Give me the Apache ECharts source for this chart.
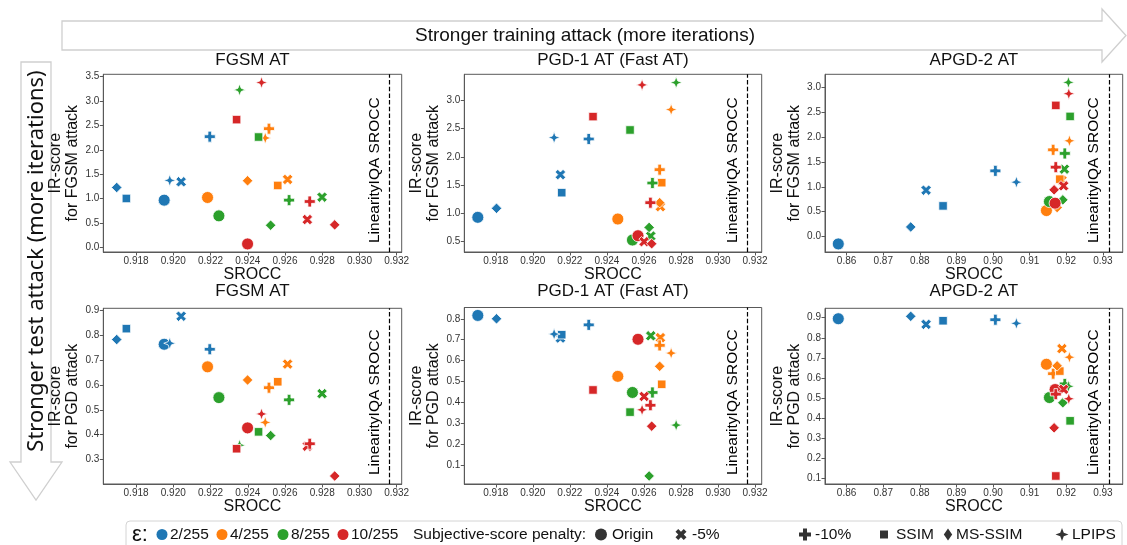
<!DOCTYPE html>
<html><head><meta charset="utf-8">
<script src="https://cdn.jsdelivr.net/npm/echarts@6/dist/echarts.min.js"></script>
<style>html,body{margin:0;padding:0;background:#fff}#c{width:1127px;height:545px}</style>
</head><body><div id="c"></div>
<script>
// ---------------- DATA ----------------
const epsLabels = ['2/255', '4/255', '8/255', '10/255'];
const penalties = ['Origin', '-5%', '-10%', 'SSIM', 'MS-SSIM', 'LPIPS'];
const trainingTitles = ['FGSM AT', 'PGD-1 AT (Fast AT)', 'APGD-2 AT'];
const yNames = ['IR-score\nfor FGSM attack', 'IR-score\nfor PGD attack'];
const xName = 'SROCC';
const linearityIQA_SROCC = 0.9316;
const refLabel = 'LinearityIQA SROCC';

// rows: eps (2,4,8,10/255); columns: penalties (Origin,-5%,-10%,SSIM,MS-SSIM,LPIPS)
const fgsmAT_srocc = [
  [0.91951, 0.92042, 0.92196, 0.91748, 0.91696, 0.91981],
  [0.92184, 0.92614, 0.92514, 0.92561, 0.92399, 0.92494],
  [0.92245, 0.92799, 0.92622, 0.92458, 0.92523, 0.92356],
  [0.92399, 0.92720, 0.92733, 0.92340, 0.92867, 0.92474]];
const fgsmAT_irFGSM = [
  [0.970, 1.347, 2.270, 1.005, 1.230, 1.374],
  [1.025, 1.394, 2.433, 1.271, 1.367, 2.242],
  [0.649, 1.032, 0.971, 2.262, 0.458, 3.226],
  [0.075, 0.574, 0.943, 2.618, 0.465, 3.377]];
const fgsmAT_irPGD = [
  [0.764, 0.877, 0.744, 0.827, 0.783, 0.768],
  [0.673, 0.684, 0.589, 0.613, 0.620, 0.449],
  [0.549, 0.565, 0.540, 0.411, 0.396, 0.357],
  [0.427, 0.353, 0.363, 0.343, 0.233, 0.483]];

const pgd1AT_srocc = [
  [0.91703, 0.92149, 0.92302, 0.92156, 0.91804, 0.92115],
  [0.92459, 0.92689, 0.92685, 0.92696, 0.92685, 0.92747],
  [0.92538, 0.92637, 0.92646, 0.92525, 0.92628, 0.92774],
  [0.92568, 0.92601, 0.92635, 0.92325, 0.92642, 0.92590]];
const pgd1AT_irFGSM = [
  [0.922, 1.682, 2.317, 1.361, 1.082, 2.341],
  [0.892, 1.112, 1.771, 1.539, 1.183, 2.840],
  [0.518, 0.589, 1.533, 2.477, 0.743, 3.321],
  [0.595, 0.488, 1.183, 2.715, 0.452, 3.279]];
const pgd1AT_irPGD = [
  [0.816, 0.708, 0.771, 0.724, 0.800, 0.727],
  [0.525, 0.710, 0.673, 0.487, 0.573, 0.636],
  [0.448, 0.719, 0.448, 0.354, 0.049, 0.292],
  [0.702, 0.429, 0.387, 0.460, 0.287, 0.365]];

const apgd2AT_srocc = [
  [0.85773, 0.88170, 0.90063, 0.88634, 0.87751, 0.90637],
  [0.91457, 0.91880, 0.91640, 0.91822, 0.91749, 0.92085],
  [0.91539, 0.91948, 0.91959, 0.92104, 0.91905, 0.92058],
  [0.91694, 0.91926, 0.91713, 0.91713, 0.91667, 0.92068]];
const apgd2AT_irFGSM = [
  [-0.147, 0.931, 1.319, 0.616, 0.194, 1.092],
  [0.522, 1.130, 1.741, 1.152, 0.583, 1.922],
  [0.703, 1.353, 1.668, 2.411, 0.737, 3.094],
  [0.670, 1.018, 1.393, 2.632, 0.938, 2.867]];
const apgd2AT_irPGD = [
  [0.895, 0.867, 0.890, 0.885, 0.907, 0.872],
  [0.668, 0.746, 0.621, 0.634, 0.660, 0.703],
  [0.502, 0.555, 0.570, 0.386, 0.476, 0.558],
  [0.542, 0.543, 0.519, 0.111, 0.351, 0.496]];

// tick labels
const xTicksNarrow = [0.918, 0.920, 0.922, 0.924, 0.926, 0.928, 0.930, 0.932];
const xTicksWide = [0.86, 0.87, 0.88, 0.89, 0.90, 0.91, 0.92, 0.93];
const yTicksTop = [
  [0.0, 0.5, 1.0, 1.5, 2.0, 2.5, 3.0, 3.5],
  [0.5, 1.0, 1.5, 2.0, 2.5, 3.0],
  [0.0, 0.5, 1.0, 1.5, 2.0, 2.5, 3.0]];
const yTicksBottom = [
  [0.3, 0.4, 0.5, 0.6, 0.7, 0.8, 0.9],
  [0.1, 0.2, 0.3, 0.4, 0.5, 0.6, 0.7, 0.8],
  [0.1, 0.2, 0.3, 0.4, 0.5, 0.6, 0.7, 0.8, 0.9]];

const topArrowText = 'Stronger training attack (more iterations)';
const leftArrowText = 'Stronger test attack (more iterations)';
const legendEpsTitle = 'ε:';
const legendPenTitle = 'Subjective-score penalty:';

// ---------------- STYLE / LAYOUT ----------------
const FONT = '"Liberation Sans", Arial, sans-serif';
const epsColors = ['#1f77b4', '#ff7f0e', '#2ca02c', '#d62728'];

function polyPath(pts) {
  return pts.map((p, i) => (i ? 'L' : 'M') + p[0].toFixed(4) + ',' + p[1].toFixed(4)).join('') + 'Z';
}
const plusPts = [[1,0],[2,0],[2,1],[3,1],[3,2],[2,2],[2,3],[1,3],[1,2],[0,2],[0,1],[1,1]].map(p => [p[0]-1.5, p[1]-1.5]);
const xPts = plusPts.map(p => { const c = Math.SQRT1_2; return [p[0]*c - p[1]*c, p[0]*c + p[1]*c]; });
const starPts = [[0,-1],[0.27,-0.27],[1,0],[0.27,0.27],[0,1],[-0.27,0.27],[-1,0],[-0.27,-0.27]];
const markerSymbols = ['circle', 'path://' + polyPath(xPts), 'path://' + polyPath(plusPts), 'rect', 'diamond', 'path://' + polyPath(starPts)];
const markerSizes = [12, 10.5, 11, 8.5, 10.5, 12];

const gridBoxes = [
  [103.3, 74.3, 298.4, 177.7],
  [464.3, 74.3, 297.4, 177.7],
  [825.0, 74.3, 297.7, 177.7],
  [103.3, 308.3, 298.4, 175.7],
  [464.3, 307.5, 297.4, 176.5],
  [825.0, 308.3, 297.7, 175.7]];
const xLims = [[0.91624, 0.93227], [0.91630, 0.93236], [0.8541, 0.9354]];
const yLimsTop = [[-0.09, 3.545], [0.305, 3.468], [-0.309, 3.256]];
const yLimsBottom = [[0.2008, 0.909], [0.0106, 0.854], [0.071, 0.947]];

const sroccs = [fgsmAT_srocc, pgd1AT_srocc, apgd2AT_srocc];
const irF = [fgsmAT_irFGSM, pgd1AT_irFGSM, apgd2AT_irFGSM];
const irP = [fgsmAT_irPGD, pgd1AT_irPGD, apgd2AT_irPGD];

const grids = [], xAxes = [], yAxes = [], series = [], graphics = [];
for (let g = 0; g < 6; g++) {
  const t = g % 3, row = g < 3 ? 0 : 1;
  const b = gridBoxes[g];
  grids.push({left: b[0], top: b[1], width: b[2], height: b[3], show: true,
    borderColor: '#595959', borderWidth: 1, backgroundColor: 'transparent'});
  const xt = t === 2 ? xTicksWide : xTicksNarrow;
  const dec = t === 2 ? 2 : 3;
  xAxes.push({type: 'value', gridIndex: g, min: xLims[t][0], max: xLims[t][1],
    name: xName, nameLocation: 'middle', nameGap: 13,
    nameTextStyle: {fontFamily: FONT, fontSize: 16, color: '#111', verticalAlign: 'top'},
    axisLine: {show: true, onZero: false, lineStyle: {color: '#595959', width: 1}},
    axisTick: {show: true, customValues: xt, length: 3.5, lineStyle: {color: '#595959'}},
    axisLabel: {customValues: xt, formatter: v => v.toFixed(dec), fontFamily: FONT, fontSize: 10, color: '#333', margin: 4},
    splitLine: {show: false}});
  const yt = row === 0 ? yTicksTop[t] : yTicksBottom[t];
  const yl = row === 0 ? yLimsTop[t] : yLimsBottom[t];
  yAxes.push({type: 'value', gridIndex: g, min: yl[0], max: yl[1],
    name: yNames[row], nameLocation: 'middle', nameGap: 15, nameRotate: 90,
    nameTextStyle: {fontFamily: FONT, fontSize: 16, lineHeight: 17, color: '#111', align: 'center'},
    axisLine: {show: true, onZero: false, lineStyle: {color: '#595959', width: 1}},
    axisTick: {show: true, customValues: yt, length: 3.5, lineStyle: {color: '#595959'}},
    axisLabel: {customValues: yt, formatter: v => v.toFixed(1), fontFamily: FONT, fontSize: 10, color: '#333', margin: 4},
    splitLine: {show: false}});
  const ys = row === 0 ? irF[t] : irP[t];
  for (let e = 0; e < 4; e++) {
    const s = {type: 'scatter', name: epsLabels[e], xAxisIndex: g, yAxisIndex: g,
      itemStyle: {color: epsColors[e], borderColor: '#ffffff', borderWidth: 0.8, opacity: 1},
      emphasis: {disabled: true}, silent: true,
      data: penalties.map((p, k) => ({name: p, value: [sroccs[t][e][k], ys[e][k]],
        symbol: markerSymbols[k], symbolSize: markerSizes[k]}))};
    if (e === 0) {
      s.markLine = {silent: true, symbol: ['none', 'none'], animation: false, precision: 5,
        lineStyle: {color: '#000', width: 1.2, type: [4.5, 2.2]},
        label: {show: true, position: 'insideStartTop', formatter: refLabel,
          fontFamily: FONT, fontSize: 15.5, color: '#000', distance: [9, 7]},
        data: [{xAxis: linearityIQA_SROCC}]};
    }
    series.push(s);
  }
  graphics.push({type: 'text', x: b[0] + b[2] / 2, y: row === 0 ? 60.5 : 291.5,
    style: {text: trainingTitles[t], font: '17px ' + FONT, fill: '#111', textAlign: 'center', textVerticalAlign: 'middle'}});
}

// big arrows
graphics.push({type: 'polygon', shape: {points: [[62,21],[1102,21],[1102,9],[1126,35.5],[1102,62],[1102,50],[62,50]]},
  style: {fill: '#fff', stroke: '#cfcfcf', lineWidth: 1.3}, z: -1});
graphics.push({type: 'text', x: 585, y: 35.5,
  style: {text: topArrowText, font: '19px ' + FONT, fill: '#111', textAlign: 'center', textVerticalAlign: 'middle'}});
graphics.push({type: 'polygon', shape: {points: [[21,62],[51,62],[51,462],[62,462],[36,500],[10,462],[21,462]]},
  style: {fill: '#fff', stroke: '#cfcfcf', lineWidth: 1.3}, z: -1});
graphics.push({type: 'text', x: 37, y: 261, rotation: Math.PI / 2,
  style: {text: leftArrowText, font: '22px "Noto Sans", ' + FONT, fill: '#111', textAlign: 'center', textVerticalAlign: 'middle'}});

// legend
const LY = 534.5;
const LFONT = '15.5px ' + FONT;
graphics.push({type: 'rect', shape: {x: 126, y: 521, width: 996, height: 30, r: 4},
  style: {fill: '#fff', stroke: '#d4d4d4', lineWidth: 1}, z: -1});
graphics.push({type: 'text', x: 132, y: LY, style: {text: legendEpsTitle, font: '22px ' + FONT, fill: '#111', textVerticalAlign: 'middle'}});
const epsDotX = [162, 222, 283, 343];
epsLabels.forEach((lab, e) => {
  graphics.push({type: 'circle', shape: {cx: epsDotX[e], cy: LY, r: 5.5}, style: {fill: epsColors[e]}});
  graphics.push({type: 'text', x: epsDotX[e] + 8, y: LY, style: {text: lab, font: LFONT, fill: '#111', textVerticalAlign: 'middle'}});
});
graphics.push({type: 'text', x: 413, y: LY, style: {text: legendPenTitle, font: LFONT, fill: '#111', textVerticalAlign: 'middle'}});
const penX = [601, 681, 805, 884, 948, 1062];
const penTextX = [612, 692, 815, 896, 956, 1072];
const penSize = [12, 11, 12, 8, 12, 13];
const penShapes = [null, xPts, plusPts, null, [[0,-1],[0.7,0],[0,1],[-0.7,0]], starPts];
penalties.forEach((lab, k) => {
  const cx = penX[k], s = penSize[k];
  if (k === 0) graphics.push({type: 'circle', shape: {cx, cy: LY, r: s / 2}, style: {fill: '#333'}});
  else if (k === 3) graphics.push({type: 'rect', shape: {x: cx - s / 2, y: LY - s / 2, width: s, height: s}, style: {fill: '#333'}});
  else {
    const pts = penShapes[k];
    const m = Math.max(...pts.map(p => Math.max(Math.abs(p[0]), Math.abs(p[1]))));
    graphics.push({type: 'polygon', shape: {points: pts.map(p => [cx + p[0] / m * s / 2, LY + p[1] / m * s / 2])}, style: {fill: '#333'}});
  }
  graphics.push({type: 'text', x: penTextX[k], y: LY, style: {text: lab, font: LFONT, fill: '#111', textVerticalAlign: 'middle'}});
});

const chart = echarts.init(document.getElementById('c'), null, {renderer: 'canvas'});
chart.setOption({animation: false, backgroundColor: '#fff',
  grid: grids, xAxis: xAxes, yAxis: yAxes, series, graphic: graphics});
</script></body></html>
